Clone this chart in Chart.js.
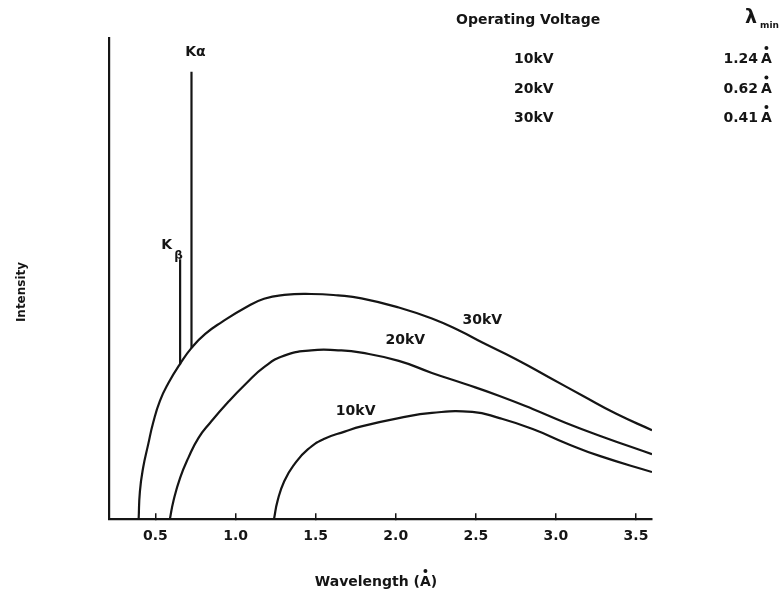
<!DOCTYPE html>
<html>
<head>
<meta charset="utf-8">
<script src="https://cdn.jsdelivr.net/npm/chart.js@4/dist/chart.umd.min.js"></script>
<style>
  html, body { margin: 0; padding: 0; background: #fff; }
  #wrap { width: 779px; height: 599px; position: relative; }
</style>
</head>
<body>
<div id="wrap"><canvas id="spectrumChart"></canvas></div>
<script>
// Continuous spectra (wavelength in Angstrom, intensity in arbitrary units)
let wl30 = [0.395, 0.403, 0.423, 0.455, 0.486, 0.528, 0.581, 0.654, 0.728, 0.811, 0.916, 1.063, 1.178, 1.304, 1.472, 1.640, 1.786, 2.019, 2.226, 2.396, 2.541, 2.748, 2.962, 3.170, 3.377, 3.60];
let int30 = [0, 5.8, 10.7, 15.6, 20.1, 24.6, 28.3, 32.3, 35.7, 38.5, 41.0, 44.0, 45.8, 46.6, 46.8, 46.5, 45.9, 44.0, 41.7, 39.2, 36.7, 33.3, 29.4, 25.6, 21.9, 18.5];

let wl20 = [0.59, 0.612, 0.654, 0.706, 0.769, 0.843, 0.958, 1.063, 1.178, 1.304, 1.472, 1.640, 1.786, 2.019, 2.226, 2.434, 2.648, 2.855, 3.063, 3.277, 3.60];
let int20 = [0, 3.75, 8.6, 12.8, 16.9, 20.1, 24.5, 28.1, 31.6, 34.0, 35.1, 35.1, 34.6, 32.9, 30.4, 28.1, 25.6, 22.9, 20.0, 17.3, 13.5];

let wl10 = [1.24, 1.262, 1.304, 1.367, 1.451, 1.555, 1.681, 1.786, 2.019, 2.226, 2.478, 2.648, 2.855, 3.063, 3.277, 3.60];
let int10 = [0, 3.75, 7.9, 11.4, 14.5, 16.7, 18.2, 19.3, 21.0, 22.1, 22.3, 21.0, 18.75, 15.8, 13.1, 9.8];

// Characteristic lines (wavelength, base, top)
let kAlpha = { wl: 0.725, base: 35.5, top: 93 };
let kBeta = { wl: 0.654, base: 32.2, top: 54 };

// Tick labels on the wavelength axis
let xTicks = [0.5, 1.0, 1.5, 2.0, 2.5, 3.0, 3.5];

// Table of minimum wavelengths
let voltages = ['10kV', '20kV', '30kV'];
let lambdaMin = [1.24, 0.62, 0.41];

const ink = '#151515';
const fam = '"DejaVu Sans", "Liberation Sans", sans-serif';
const boldFont = 'bold 14px ' + fam;

function toPoints(xs, ys) {
    return xs.map((x, i) => ({ x: x, y: ys[i] }));
}

function curve(label, xs, ys) {
    return {
        label: label,
        data: toPoints(xs, ys),
        borderColor: ink,
        borderWidth: 2.2,
        pointRadius: 0,
        fill: false,
        tension: 0.5
    };
}

function spike(label, line) {
    return {
        label: label,
        data: [{ x: line.wl, y: line.base }, { x: line.wl, y: line.top }],
        borderColor: ink,
        borderWidth: 2.2,
        pointRadius: 0,
        fill: false
    };
}

// Draw an Angstrom sign (A with a dot above)
function drawAngstrom(ctx, x, y, font) {
    ctx.font = font;
    ctx.textAlign = 'left';
    ctx.fillText('A', x, y);
    let w = ctx.measureText('A').width;
    ctx.beginPath();
    ctx.arc(x + w / 2, y - 15, 2, 0, Math.PI * 2);
    ctx.fill();
    return w;
}

// Text labels placed in data coordinates, plus the table at the top right
const labelsPlugin = {
    id: 'labels',
    afterDraw(chart) {
        let ctx = chart.ctx;
        let xs = chart.scales.x, ys = chart.scales.y;
        ctx.save();
        ctx.fillStyle = ink;
        ctx.textBaseline = 'middle';
        ctx.textAlign = 'center';
        ctx.font = boldFont;

        let curveLabels = [
            { text: '30kV', x: 2.54, y: 41.3 },
            { text: '20kV', x: 2.06, y: 37.1 },
            { text: '10kV', x: 1.75, y: 22.5 }
        ];
        curveLabels.forEach(l => {
            ctx.fillText(l.text, xs.getPixelForValue(l.x), ys.getPixelForValue(l.y));
        });

        // K alpha
        ctx.fillText('K\u03b1', xs.getPixelForValue(0.75), ys.getPixelForValue(97));
        // K beta
        let kbx = xs.getPixelForValue(0.57), kby = ys.getPixelForValue(57);
        ctx.fillText('K', kbx, kby);
        ctx.font = 'bold 12px ' + fam;
        ctx.fillText('\u03b2', kbx + 12, kby + 11);

        // Intensity axis title
        ctx.save();
        ctx.translate(22, 292);
        ctx.rotate(-Math.PI / 2);
        ctx.font = 'bold 12px ' + fam;
        ctx.fillText('Intensity', 0, 0);
        ctx.restore();

        // Table
        ctx.font = boldFont;
        ctx.textAlign = 'left';
        ctx.fillText('Operating Voltage', 456, 20);
        ctx.font = 'bold 19px ' + fam;
        ctx.fillText('\u03bb', 745, 18);
        ctx.font = 'bold 9px ' + fam;
        ctx.fillText('min', 760, 26);

        ctx.textBaseline = 'alphabetic';
        voltages.forEach((v, i) => {
            let y = 63 + i * 29.5;
            ctx.textAlign = 'left';
            ctx.font = boldFont;
            ctx.fillText(v, 514, y);
            ctx.textAlign = 'right';
            ctx.fillText(lambdaMin[i].toFixed(2), 758, y);
            drawAngstrom(ctx, 761, y, boldFont);
        });

        // Wavelength axis title with the Angstrom sign
        let title = 'Wavelength (';
        ctx.font = boldFont;
        ctx.textAlign = 'left';
        let tw = ctx.measureText(title).width;
        let aw = ctx.measureText('A').width;
        let cw = ctx.measureText(')').width;
        let start = 376 - (tw + aw + cw) / 2;
        let ty = 586;
        ctx.fillText(title, start, ty);
        drawAngstrom(ctx, start + tw, ty, boldFont);
        ctx.fillText(')', start + tw + aw, ty);

        ctx.restore();
    }
};

function plotSpectrum() {
    let ctx = document.getElementById('spectrumChart').getContext('2d');
    new Chart(ctx, {
        type: 'line',
        data: {
            datasets: [
                curve('30kV', wl30, int30),
                curve('20kV', wl20, int20),
                curve('10kV', wl10, int10),
                spike('K alpha', kAlpha),
                spike('K beta', kBeta)
            ]
        },
        options: {
            responsive: true,
            maintainAspectRatio: false,
            animation: false,
            layout: { padding: { top: 38, right: 127, left: 109, bottom: 39 } },
            plugins: {
                legend: { display: false },
                tooltip: { enabled: false }
            },
            scales: {
                x: {
                    type: 'linear',
                    min: 0.21,
                    max: 3.60,
                    afterBuildTicks: scale => {
                        scale.ticks = xTicks.map(v => ({ value: v }));
                    },
                    grid: {
                        display: true,
                        drawOnChartArea: false,
                        drawTicks: true,
                        tickLength: -6,
                        color: ink,
                        lineWidth: 1.5
                    },
                    border: { display: true, color: ink, width: 2.2 },
                    ticks: {
                        color: ink,
                        font: { family: fam, size: 14, weight: 'bold' },
                        padding: 15,
                        maxRotation: 0,
                        callback: v => Number(v).toFixed(1)
                    }
                },
                y: {
                    min: 0,
                    max: 100,
                    grid: { display: false, drawTicks: false },
                    border: { display: true, color: ink, width: 2.2 },
                    ticks: { display: false },
                    title: { display: false }
                }
            }
        },
        plugins: [labelsPlugin]
    });
}

plotSpectrum();
</script>
</body>
</html>
